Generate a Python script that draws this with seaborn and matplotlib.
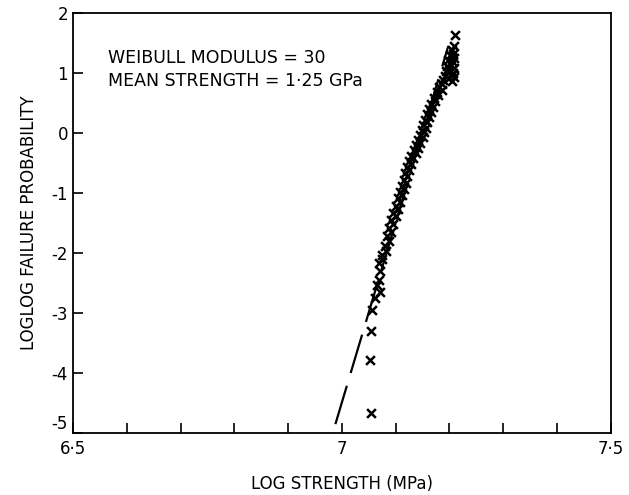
import numpy as np
import pandas as pd
import seaborn as sns
import matplotlib.pyplot as plt

# Weibull plot: log strength vs loglog failure probability
log_strength = [
    7.210, 7.208, 7.204, 7.207, 7.201, 7.208, 7.198, 7.206, 7.203, 7.196,
    7.208, 7.200, 7.193, 7.207, 7.204, 7.191, 7.209, 7.199, 7.188, 7.205,
    7.187, 7.180, 7.186, 7.176, 7.179, 7.171, 7.174, 7.166, 7.169, 7.162,
    7.165, 7.158, 7.162, 7.155, 7.159, 7.151, 7.156, 7.149, 7.153, 7.146,
    7.150, 7.142, 7.146, 7.138, 7.142, 7.134, 7.138, 7.129, 7.133, 7.125,
    7.129, 7.121, 7.125, 7.118, 7.122, 7.115, 7.119, 7.112, 7.116, 7.108,
    7.112, 7.104, 7.108, 7.100, 7.104, 7.096, 7.100, 7.092, 7.096, 7.088,
    7.092, 7.084, 7.088, 7.080, 7.083, 7.075, 7.075, 7.069, 7.071, 7.069,
    7.065, 7.071, 7.061, 7.056, 7.054, 7.052, 7.054,
]
loglog_prob = [
    1.63, 1.45, 1.38, 1.32, 1.30, 1.25, 1.22, 1.18, 1.14, 1.12,
    1.08, 1.05, 1.03, 1.00, 0.97, 0.95, 0.93, 0.91, 0.88, 0.86,
    0.82, 0.76, 0.72, 0.68, 0.63, 0.58, 0.53, 0.49, 0.44, 0.40,
    0.35, 0.31, 0.27, 0.22, 0.18, 0.13, 0.09, 0.05, 0.01, -0.03,
    -0.07, -0.12, -0.16, -0.20, -0.25, -0.29, -0.33, -0.38, -0.42, -0.47,
    -0.52, -0.57, -0.62, -0.67, -0.72, -0.78, -0.83, -0.88, -0.93, -0.99,
    -1.04, -1.09, -1.15, -1.21, -1.27, -1.33, -1.39, -1.45, -1.52, -1.58,
    -1.65, -1.72, -1.80, -1.88, -1.96, -2.04, -2.10, -2.17, -2.30, -2.45,
    -2.53, -2.65, -2.75, -2.95, -3.30, -3.78, -4.67,
]

# fitted Weibull line (modulus 30), end points
fit_x = [6.988, 7.198]
fit_y = [-4.85, 1.45]

x_ticks = [6.5, 7.0, 7.5]
x_tick_labels = ['6·5', '7', '7·5']
y_ticks = [-5, -4, -3, -2, -1, 0, 1, 2]

df = pd.DataFrame({'x': log_strength, 'y': loglog_prob})

sns.set_style('ticks')
plt.rcParams['font.family'] = ['DejaVu Sans']
plt.rcParams['text.color'] = 'black'
plt.rcParams['axes.labelcolor'] = 'black'

fig = plt.figure(figsize=(6.29, 4.95), dpi=100)
ax = fig.add_axes([0.116, 0.125, 0.855, 0.849])

sns.lineplot(x=fit_x, y=fit_y, ax=ax, color='black', linewidth=1.6, sort=False)
ax.lines[-1].set_dashes((18, 6))

sns.scatterplot(data=df, x='x', y='y', ax=ax, marker='x', color='black',
                s=40, linewidth=1.8)

ax.set_xlim(6.5, 7.5)
ax.set_ylim(-5, 2)
ax.set_xticks(x_ticks)
ax.set_xticklabels(x_tick_labels)
ax.set_xticks(np.arange(6.6, 7.45, 0.1), minor=True)
ax.set_yticks(y_ticks)
ax.set_yticklabels([str(v) for v in y_ticks])
ax.tick_params(axis='both', which='both', direction='in', length=7, width=1.2,
               labelsize=12, colors='black')
ax.tick_params(axis='x', which='major', pad=5)
# the -5 label sits a little above the corner so it clears 6·5
ax.get_yticklabels()[0].set_verticalalignment('bottom')
for sp in ax.spines.values():
    sp.set_linewidth(1.3)
    sp.set_color('black')

ax.set_xlabel('LOG STRENGTH (MPa)', fontsize=12, labelpad=12)
ax.set_ylabel('LOGLOG FAILURE PROBABILITY', fontsize=12, labelpad=10)

ax.text(6.565, 1.25, 'WEIBULL MODULUS = 30', fontsize=12.5, va='center', ha='left')
ax.text(6.565, 0.87, 'MEAN STRENGTH = 1·25 GPa', fontsize=12.5, va='center', ha='left')

fig.savefig('out.png', dpi=100)
